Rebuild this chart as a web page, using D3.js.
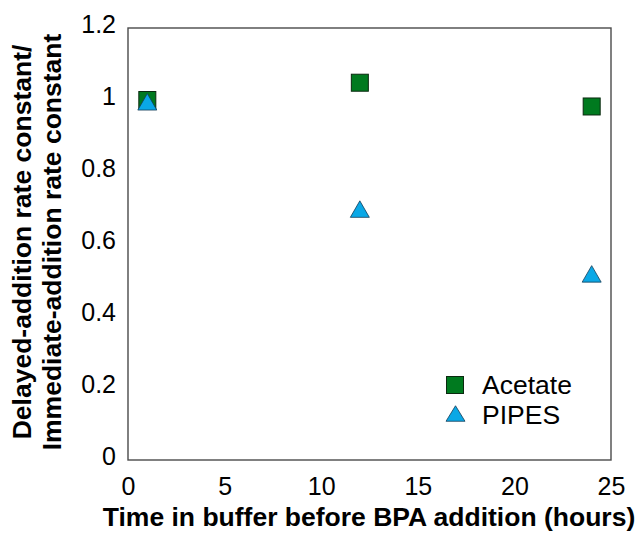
<!DOCTYPE html>
<html>
<head>
<meta charset="utf-8">
<script src="https://cdn.jsdelivr.net/npm/d3@7"></script>
<style>
  html, body { margin: 0; padding: 0; background: #fff; }
  svg { display: block; }
  text { font-family: "Liberation Sans", Arial, sans-serif; fill: #000; }
</style>
</head>
<body>
<svg id="chart" width="644" height="535"></svg>
<script>
// ---- data ----
const hours = [1, 12, 24];
const acetate = [1.0, 1.048, 0.982];
const pipes = [0.995, 0.697, 0.517];
const seriesNames = ["Acetate", "PIPES"];
const xTicks = [0, 5, 10, 15, 20, 25];
const yTicks = [0, 0.2, 0.4, 0.6, 0.8, 1, 1.2];
const xTitle = "Time in buffer before BPA addition (hours)";
const yTitleLines = ["Delayed-addition rate constant/", "Immediate-addition rate constant"];

// ---- layout ----
const svg = d3.select("#chart");
const L = 128, R = 611, T = 28, B = 460;
const x = d3.scaleLinear().domain([0, 25]).range([L, R]);
const y = d3.scaleLinear().domain([0, 1.2]).range([B, T]);

const greenFill = "#007a1f", greenStroke = "#0b2a10";
const blueFill = "#0aa8e6", blueStroke = "#123c58";

// frame
svg.append("rect")
  .attr("x", L).attr("y", T).attr("width", R - L).attr("height", B - T)
  .attr("fill", "none").attr("stroke", "#4a4a4a").attr("stroke-width", 1.4);

// x axis ticks (labels only)
const xAxis = d3.axisBottom(x).tickValues(xTicks).tickSize(0).tickPadding(0).tickFormat(d3.format("d"));
const gx = svg.append("g").attr("transform", `translate(0,${B})`).call(xAxis);
gx.select(".domain").remove();
gx.selectAll("text")
  .attr("y", 35).attr("dy", null)
  .style("font-size", "25px").style("font-family", "Liberation Sans, Arial, sans-serif").attr("fill", "#000");

// y axis ticks
const yAxis = d3.axisLeft(y).tickValues(yTicks).tickSize(0).tickPadding(0).tickFormat(d => String(+d.toFixed(1)));
const gy = svg.append("g").attr("transform", `translate(${L},0)`).call(yAxis);
gy.select(".domain").remove();
gy.selectAll("text")
  .attr("x", -12).attr("dy", "0.16em")
  .style("font-size", "25px").style("font-family", "Liberation Sans, Arial, sans-serif").attr("fill", "#000");

// axis titles
svg.append("text")
  .attr("x", (100 + 638) / 2).attr("y", 526)
  .attr("text-anchor", "middle")
  .style("font-size", "26.5px").style("font-weight", "bold")
  .text(xTitle);

const yt = svg.append("g").attr("transform", "translate(0,242) rotate(-90)");
yTitleLines.forEach((t, i) => {
  yt.append("text")
    .attr("x", 0).attr("y", 31 + i * 30)
    .attr("text-anchor", "middle")
    .style("font-size", "26.5px").style("font-weight", "bold")
    .text(t);
});

// marker shapes
const SQ = 17;
function triPath(w, h) {
  return `M0,${-h / 2}L${w / 2},${h / 2}L${-w / 2},${h / 2}Z`;
}

const acetatePts = hours.map((h, i) => ({ x: h, y: acetate[i] }));
const pipesPts = hours.map((h, i) => ({ x: h, y: pipes[i] }));

svg.append("g").selectAll("rect").data(acetatePts).join("rect")
  .attr("x", d => x(d.x) - SQ / 2).attr("y", d => y(d.y) - SQ / 2)
  .attr("width", SQ).attr("height", SQ)
  .attr("fill", greenFill).attr("stroke", greenStroke).attr("stroke-width", 1);

svg.append("g").selectAll("path").data(pipesPts).join("path")
  .attr("transform", d => `translate(${x(d.x)},${y(d.y)})`)
  .attr("d", triPath(19, 16.5))
  .attr("fill", blueFill).attr("stroke", blueStroke).attr("stroke-width", 0.8);

// legend
const leg = svg.append("g");
leg.append("rect")
  .attr("x", 455 - SQ / 2).attr("y", 385 - SQ / 2).attr("width", SQ).attr("height", SQ)
  .attr("fill", greenFill).attr("stroke", greenStroke).attr("stroke-width", 1);
leg.append("path")
  .attr("transform", "translate(455.5,413.5)")
  .attr("d", triPath(19, 15.5))
  .attr("fill", blueFill).attr("stroke", blueStroke).attr("stroke-width", 0.8);
leg.append("text").attr("x", 482).attr("y", 393.5).style("font-size", "26.5px").text(seriesNames[0]);
leg.append("text").attr("x", 482).attr("y", 423.5).style("font-size", "26.5px").text(seriesNames[1]);
</script>
</body>
</html>
